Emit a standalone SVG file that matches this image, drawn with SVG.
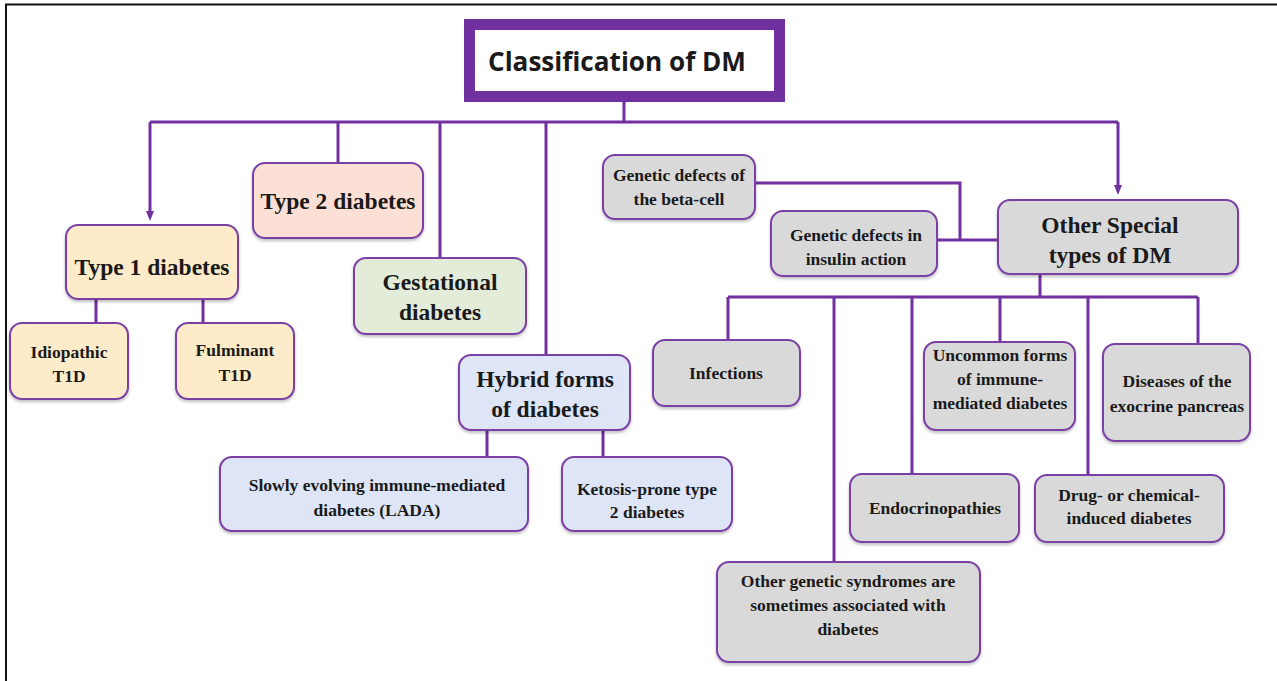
<svg xmlns="http://www.w3.org/2000/svg" width="1277" height="681" viewBox="0 0 1277 681">
<defs>
<marker id="arr" markerWidth="10" markerHeight="10" refX="5" refY="5" orient="auto" markerUnits="userSpaceOnUse">
<path d="M0,1 L10,5 L0,9 Z" fill="#7030a0"/>
</marker>
<filter id="sh" x="-10%" y="-10%" width="120%" height="130%">
<feDropShadow dx="0" dy="2" stdDeviation="1.5" flood-color="#000" flood-opacity="0.25"/>
</filter>
</defs>
<style>
.box{stroke:#7a3fa6;stroke-width:2;filter:url(#sh)}
.t1{fill:#fdebc9}
.t2{fill:#fde0d5}
.ge{fill:#e3ecd9}
.hy{fill:#dde5f6}
.gr{fill:#d9d9d9}
text{font-family:"Liberation Serif","Times New Roman",serif;font-weight:bold;fill:#1a1a1a;text-anchor:middle}
.big{font-size:23.5px}
.sm{font-size:17.5px}
.conn{stroke:#7030a0;stroke-width:3;fill:none}
</style>
<rect x="0" y="0" width="1277" height="681" fill="#ffffff"/>
<path d="M6,681 V4.5 H1277" fill="none" stroke="#111" stroke-width="2"/>

<g id="connectors">
<path class="conn" d="M624,102 V122"/>
<path class="conn" d="M150,122 H1118"/>
<path class="conn" d="M150,122 V216" marker-end="url(#arr)"/>
<path class="conn" d="M338,122 V163"/>
<path class="conn" d="M440,122 V258"/>
<path class="conn" d="M546,122 V355"/>
<path class="conn" d="M1118,122 V190" marker-end="url(#arr)"/>
<path class="conn" d="M96,299 V323"/>
<path class="conn" d="M203,299 V323"/>
<path class="conn" d="M487,430 V457"/>
<path class="conn" d="M603,430 V457"/>
<path class="conn" d="M755,183 H960 V240"/>
<path class="conn" d="M937,240 H998"/>
<path class="conn" d="M1040,274 V297"/>
<path class="conn" d="M728,297 H1198"/>
<path class="conn" d="M728,297 V340"/>
<path class="conn" d="M834,297 V562"/>
<path class="conn" d="M912,297 V474"/>
<path class="conn" d="M1000,297 V342"/>
<path class="conn" d="M1088,297 V475"/>
<path class="conn" d="M1198,297 V344"/>
</g>

<g id="title">
<rect x="469.5" y="24.5" width="310" height="72" fill="#ffffff" stroke="#7030a0" stroke-width="11"/>
<text x="617" y="71" style="font-family:'Open Sans','Liberation Sans',sans-serif;font-size:27px" textLength="258" lengthAdjust="spacingAndGlyphs">Classification of DM</text>
</g>

<g id="type1">
<rect class="box t1" x="66" y="225" width="172" height="74" rx="12"/>
<text class="big" x="152" y="275">Type 1 diabetes</text>
</g>
<g id="idiopathic">
<rect class="box t1" x="10" y="323" width="118" height="76" rx="12"/>
<text class="sm" x="69" y="358">Idiopathic</text>
<text class="sm" x="69" y="382">T1D</text>
</g>
<g id="fulminant">
<rect class="box t1" x="176" y="323" width="118" height="76" rx="12"/>
<text class="sm" x="235" y="356">Fulminant</text>
<text class="sm" x="235" y="381">T1D</text>
</g>

<g id="type2">
<rect class="box t2" x="253" y="163" width="170" height="75" rx="12"/>
<text class="big" x="338" y="209">Type 2 diabetes</text>
</g>

<g id="gestational">
<rect class="box ge" x="354" y="258" width="172" height="76" rx="12"/>
<text class="big" x="440" y="290">Gestational</text>
<text class="big" x="440" y="320">diabetes</text>
</g>

<g id="hybrid">
<rect class="box hy" x="459" y="355" width="171" height="75" rx="12"/>
<text class="big" x="545" y="387">Hybrid forms</text>
<text class="big" x="545" y="417">of diabetes</text>
</g>
<g id="lada">
<rect class="box hy" x="220" y="457" width="308" height="74" rx="12"/>
<text class="sm" x="377" y="491">Slowly evolving immune-mediated</text>
<text class="sm" x="377" y="516">diabetes (LADA)</text>
</g>
<g id="ketosis">
<rect class="box hy" x="562" y="457" width="170" height="74" rx="12"/>
<text class="sm" x="647" y="495">Ketosis-prone type</text>
<text class="sm" x="647" y="518">2 diabetes</text>
</g>

<g id="other-special">
<rect class="box gr" x="998" y="200" width="240" height="74" rx="12"/>
<text class="big" x="1110" y="233">Other Special</text>
<text class="big" x="1110" y="263">types of DM</text>
</g>
<g id="beta-cell">
<rect class="box gr" x="603" y="155" width="152" height="64" rx="12"/>
<text class="sm" x="679" y="181">Genetic defects of</text>
<text class="sm" x="679" y="205">the beta-cell</text>
</g>
<g id="insulin-action">
<rect class="box gr" x="771" y="211" width="166" height="65" rx="12"/>
<text class="sm" x="856" y="241">Genetic defects in</text>
<text class="sm" x="856" y="265">insulin action</text>
</g>

<g id="infections">
<rect class="box gr" x="653" y="340" width="147" height="66" rx="12"/>
<text class="sm" x="726" y="379">Infections</text>
</g>
<g id="uncommon">
<rect class="box gr" x="924" y="342" width="151" height="88" rx="12"/>
<text class="sm" x="1000" y="361">Uncommon forms</text>
<text class="sm" x="1000" y="385">of immune-</text>
<text class="sm" x="1000" y="409">mediated diabetes</text>
</g>
<g id="exocrine">
<rect class="box gr" x="1103" y="344" width="147" height="97" rx="12"/>
<text class="sm" x="1177" y="387">Diseases of the</text>
<text class="sm" x="1177" y="412">exocrine pancreas</text>
</g>
<g id="endocrinopathies">
<rect class="box gr" x="850" y="474" width="169" height="68" rx="12"/>
<text class="sm" x="935" y="514">Endocrinopathies</text>
</g>
<g id="drug">
<rect class="box gr" x="1035" y="475" width="189" height="67" rx="12"/>
<text class="sm" x="1129" y="501">Drug- or chemical-</text>
<text class="sm" x="1129" y="524">induced diabetes</text>
</g>
<g id="other-genetic">
<rect class="box gr" x="717" y="562" width="263" height="100" rx="12"/>
<text class="sm" x="848" y="587">Other genetic syndromes are</text>
<text class="sm" x="848" y="611">sometimes associated with</text>
<text class="sm" x="848" y="635">diabetes</text>
</g>
</svg>
